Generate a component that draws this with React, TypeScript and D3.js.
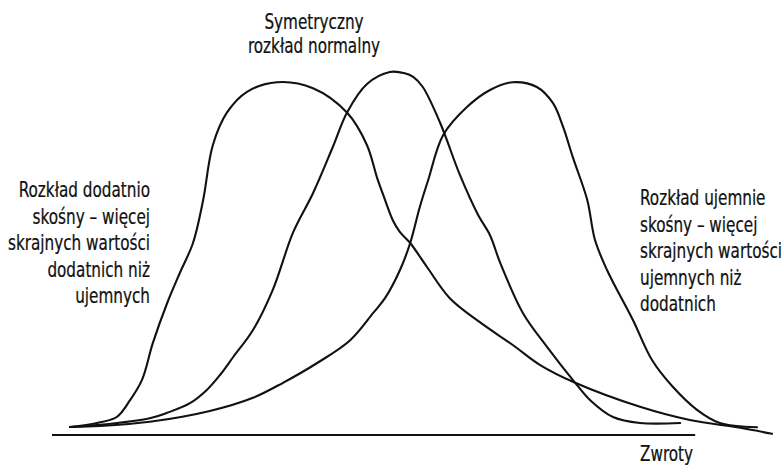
import * as d3 from 'd3'

type Pt = [number, number]

// density curves (x: returns, y: density; arbitrary units)
const positiveSkew: Pt[] = [
  [3, 1.33], [7.5, 2], [10.8, 3], [13, 5.8], [15, 9.2], [16.8, 15.3], [19.2, 22],
  [21.3, 27], [23.5, 32], [25.2, 39.2], [26.8, 48.3], [29.2, 53.8], [32.5, 57.2],
  [37.5, 58.8], [43.5, 57.8], [49.2, 53.7], [52.5, 48.3], [54.2, 42.8], [55.5, 39.2],
  [56.8, 35.8], [58, 33.8], [59.7, 32], [62.5, 28], [66.3, 22.8], [71.3, 18.8],
  [76.8, 15], [81.3, 11.7], [87.2, 8.7], [98, 4.7], [106.3, 2.5], [114.7, 1.2], [120, 0.2],
]

const symmetric: Pt[] = [
  [3, 1.33], [8, 1.7], [16.3, 2.8], [19.2, 3.7], [23, 5.3], [25.8, 7.5], [28, 10],
  [30.2, 13], [33.5, 17.5], [36.8, 24.2], [40.2, 33.8], [43.5, 40.3], [46.8, 48],
  [49.2, 53.8], [52.5, 58.5], [56.3, 60.5], [58.8, 60.3], [60.2, 59.7], [61.8, 58],
  [64.7, 52], [68, 43.3], [71, 36.7], [73, 33.3], [74.7, 28.7], [78.5, 20.3],
  [82.5, 14.7], [87.2, 8.7], [89.7, 5.8], [93.5, 3], [98, 2], [104.7, 2],
]

const negativeSkew: Pt[] = [
  [3, 1.33], [8, 1.5], [16.3, 2.2], [26.3, 4], [33.5, 6.2], [38.5, 8.7], [44.2, 12],
  [49.7, 15.8], [53.5, 20.3], [55.5, 22.8], [58, 27.5], [59.7, 32], [61.3, 38],
  [62.7, 42.5], [65.2, 50], [69.2, 54.7], [73, 57.5], [76.8, 58.8], [80.8, 58],
  [83.5, 55.3], [85.2, 51.3], [86.8, 46.3], [89.2, 39.2], [90.5, 32.5], [92.5, 27.5],
  [96.8, 19.2], [100, 12.5], [103.5, 8], [107.5, 4.2], [111.3, 2], [117.5, 1.3],
]

const axisExtent = [0, 107.2]

const topLabel = ['Symetryczny', 'rozkład normalny']
const leftLabel = ['Rozkład dodatnio', 'skośny – więcej', 'skrajnych wartości', 'dodatnich niż', 'ujemnych']
const rightLabel = ['Rozkład ujemnie', 'skośny – więcej', 'skrajnych wartości', 'ujemnych niż', 'dodatnich']
const axisLabel = 'Zwroty'

const width = 784
const height = 468
const ink = '#111'
const font = '"DejaVu Sans Condensed", "DejaVu Sans", sans-serif'
// squeeze the condensed face a bit more, closer to the narrow original type
const squeeze = 0.77

function Label({ x, y, anchor, children }: { x: number; y: number; anchor?: 'start' | 'middle' | 'end'; children: string }) {
  return (
    <text transform={`translate(${x},${y}) scale(${squeeze},1)`} textAnchor={anchor ?? 'start'}>
      {children}
    </text>
  )
}

export default function App() {
  const x = d3.scaleLinear().domain([0, 120]).range([52, 772])
  const y = d3.scaleLinear().domain([0, 60]).range([435, 75])

  const line = d3
    .line<Pt>()
    .x(d => x(d[0]))
    .y(d => y(d[1]))
    .curve(d3.curveCatmullRom.alpha(0.5))

  const lineH = 26.5

  return (
    <svg
      width={width}
      height={height}
      viewBox={`0 0 ${width} ${height}`}
      style={{ position: 'absolute', left: 0, top: 0, background: '#fff' }}
    >
      <line
        x1={x(axisExtent[0])}
        x2={x(axisExtent[1])}
        y1={y(0)}
        y2={y(0)}
        stroke={ink}
        strokeWidth={2.2}
      />

      {[positiveSkew, symmetric, negativeSkew].map((pts, i) => (
        <path
          key={i}
          d={line(pts) ?? ''}
          fill="none"
          stroke={ink}
          strokeWidth={2.1}
          strokeLinecap="round"
          strokeLinejoin="round"
        />
      ))}

      <g fontFamily={font} fontSize={22} fill={ink} stroke={ink} strokeWidth={0.25}>
        {topLabel.map((t, i) => (
          <Label key={`t${i}`} x={314} y={29 + i * 24} anchor="middle">
            {t}
          </Label>
        ))}
        {leftLabel.map((t, i) => (
          <Label key={`l${i}`} x={150} y={197 + i * lineH} anchor="end">
            {t}
          </Label>
        ))}
        {rightLabel.map((t, i) => (
          <Label key={`r${i}`} x={640} y={205 + i * lineH}>
            {t}
          </Label>
        ))}
        <Label x={640} y={461}>
          {axisLabel}
        </Label>
      </g>
    </svg>
  )
}
